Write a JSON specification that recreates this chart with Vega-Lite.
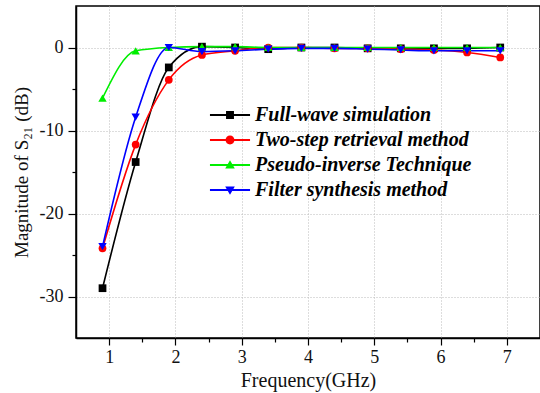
{
  "$schema": "https://vega.github.io/schema/vega-lite/v6.json",
  "autosize": "none",
  "width": 464,
  "height": 332,
  "padding": {"left": 76, "top": 6, "right": 0, "bottom": 55},
  "background": "white",
  "config": {
    "view": {"stroke": "#000", "strokeWidth": 1.5},
    "font": "Liberation Serif",
    "axis": {
      "labelFont": "Liberation Serif",
      "labelFontSize": 18,
      "labelColor": "#111",
      "titleFont": "Liberation Serif",
      "titleFontSize": 20,
      "titleFontWeight": "normal",
      "titleColor": "#111",
      "domainColor": "#000",
      "domainWidth": 1.5,
      "tickColor": "#000",
      "tickWidth": 1.2,
      "gridColor": "#bbbbbb",
      "gridDash": [1, 2],
      "gridWidth": 1
    },
    "legend": {
      "orient": "none",
      "legendX": 142,
      "legendY": 97,
      "padding": 0,
      "symbolOpacity": 1,
      "symbolSize": 576,
      "symbolStrokeWidth": 0,
      "labelFont": "Liberation Serif",
      "labelFontSize": 20,
      "labelFontStyle": "italic",
      "labelFontWeight": "bold",
      "labelColor": "#000",
      "labelOffset": 13,
      "rowPadding": 3,
      "labelLimit": 400
    }
  },
  "data": {
    "values": [
      {"series": "Full-wave simulation", "f": 0.9, "s21": -29.0},
      {"series": "Full-wave simulation", "f": 1.4, "s21": -13.8},
      {"series": "Full-wave simulation", "f": 1.9, "s21": -2.4},
      {"series": "Full-wave simulation", "f": 2.4, "s21": 0.1},
      {"series": "Full-wave simulation", "f": 2.9, "s21": 0.0},
      {"series": "Full-wave simulation", "f": 3.4, "s21": -0.2},
      {"series": "Full-wave simulation", "f": 3.9, "s21": 0.0},
      {"series": "Full-wave simulation", "f": 4.4, "s21": 0.0},
      {"series": "Full-wave simulation", "f": 4.9, "s21": -0.1},
      {"series": "Full-wave simulation", "f": 5.4, "s21": -0.1},
      {"series": "Full-wave simulation", "f": 5.9, "s21": -0.1},
      {"series": "Full-wave simulation", "f": 6.4, "s21": -0.1},
      {"series": "Full-wave simulation", "f": 6.9, "s21": 0.0},
      {"series": "Two-step retrieval method", "f": 0.9, "s21": -24.2},
      {"series": "Two-step retrieval method", "f": 1.4, "s21": -11.7},
      {"series": "Two-step retrieval method", "f": 1.9, "s21": -3.9},
      {"series": "Two-step retrieval method", "f": 2.4, "s21": -0.9},
      {"series": "Two-step retrieval method", "f": 2.9, "s21": -0.4},
      {"series": "Two-step retrieval method", "f": 3.4, "s21": 0.0},
      {"series": "Two-step retrieval method", "f": 3.9, "s21": 0.0},
      {"series": "Two-step retrieval method", "f": 4.4, "s21": -0.1},
      {"series": "Two-step retrieval method", "f": 4.9, "s21": -0.1},
      {"series": "Two-step retrieval method", "f": 5.4, "s21": -0.2},
      {"series": "Two-step retrieval method", "f": 5.9, "s21": -0.3},
      {"series": "Two-step retrieval method", "f": 6.4, "s21": -0.6},
      {"series": "Two-step retrieval method", "f": 6.9, "s21": -1.2},
      {"series": "Pseudo-inverse Technique", "f": 0.9, "s21": -6.1},
      {"series": "Pseudo-inverse Technique", "f": 1.4, "s21": -0.4},
      {"series": "Pseudo-inverse Technique", "f": 1.9, "s21": 0.0},
      {"series": "Pseudo-inverse Technique", "f": 2.4, "s21": 0.1},
      {"series": "Pseudo-inverse Technique", "f": 2.9, "s21": 0.1},
      {"series": "Pseudo-inverse Technique", "f": 3.4, "s21": 0.0},
      {"series": "Pseudo-inverse Technique", "f": 3.9, "s21": 0.0},
      {"series": "Pseudo-inverse Technique", "f": 4.4, "s21": 0.0},
      {"series": "Pseudo-inverse Technique", "f": 4.9, "s21": 0.0},
      {"series": "Pseudo-inverse Technique", "f": 5.4, "s21": 0.0},
      {"series": "Pseudo-inverse Technique", "f": 5.9, "s21": 0.0},
      {"series": "Pseudo-inverse Technique", "f": 6.4, "s21": 0.0},
      {"series": "Pseudo-inverse Technique", "f": 6.9, "s21": 0.0},
      {"series": "Filter synthesis method", "f": 0.9, "s21": -24.0},
      {"series": "Filter synthesis method", "f": 1.4, "s21": -8.4},
      {"series": "Filter synthesis method", "f": 1.9, "s21": 0.0},
      {"series": "Filter synthesis method", "f": 2.4, "s21": -0.5},
      {"series": "Filter synthesis method", "f": 2.9, "s21": -0.4},
      {"series": "Filter synthesis method", "f": 3.4, "s21": -0.2},
      {"series": "Filter synthesis method", "f": 3.9, "s21": -0.1},
      {"series": "Filter synthesis method", "f": 4.4, "s21": -0.1},
      {"series": "Filter synthesis method", "f": 4.9, "s21": -0.2},
      {"series": "Filter synthesis method", "f": 5.4, "s21": -0.3},
      {"series": "Filter synthesis method", "f": 5.9, "s21": -0.4},
      {"series": "Filter synthesis method", "f": 6.4, "s21": -0.4},
      {"series": "Filter synthesis method", "f": 6.9, "s21": -0.4}
    ]
  },
  "encoding": {
    "x": {
      "field": "f", "type": "quantitative",
      "scale": {"domain": [0.5, 7.5], "nice": false, "zero": false},
      "axis": {
        "title": "Frequency(GHz)",
        "values": [1, 1.5, 2, 2.5, 3, 3.5, 4, 4.5, 5, 5.5, 6, 6.5, 7],
        "labelExpr": "datum.value % 1 === 0 ? '' + datum.value : ''",
        "tickSize": {"condition": {"test": "datum.value % 1 === 0", "value": 7}, "value": 4},
        "gridOpacity": {"condition": {"test": "datum.value % 1 === 0", "value": 1}, "value": 0},
        "labelPadding": 3,
        "titlePadding": 4
      }
    },
    "y": {
      "field": "s21", "type": "quantitative",
      "scale": {"domain": [-35, 5], "nice": false, "zero": false},
      "axis": {
        "title": "Magnitude of S₂₁ (dB)",
        "titleFontSize": 19,
        "values": [-30, -25, -20, -15, -10, -5, 0],
        "labelExpr": "datum.value % 10 === 0 ? '' + datum.value : ''",
        "tickSize": {"condition": {"test": "datum.value % 10 === 0", "value": 8}, "value": 4},
        "gridOpacity": {"condition": {"test": "datum.value % 10 === 0", "value": 1}, "value": 0},
        "labelPadding": 5,
        "titlePadding": 8
      }
    }
  },
  "layer": [
    {
      "transform": [{"filter": "datum.series === 'Full-wave simulation'"}],
      "mark": {"type": "line", "interpolate": "monotone", "strokeWidth": 1.6, "color": "#000000"},
      "encoding": {}
    },
    {
      "transform": [{"filter": "datum.series === 'Two-step retrieval method'"}],
      "mark": {"type": "line", "interpolate": "monotone", "strokeWidth": 1.6, "color": "#ff0000"},
      "encoding": {}
    },
    {
      "transform": [{"filter": "datum.series === 'Pseudo-inverse Technique'"}],
      "mark": {"type": "line", "interpolate": "monotone", "strokeWidth": 1.6, "color": "#00ee00"},
      "encoding": {}
    },
    {
      "transform": [{"filter": "datum.series === 'Filter synthesis method'"}],
      "mark": {"type": "line", "interpolate": "monotone", "strokeWidth": 1.6, "color": "#0000ff"},
      "encoding": {}
    },
    {
      "transform": [{"filter": "datum.series === 'Full-wave simulation'"}],
      "mark": {"type": "point", "shape": "square", "filled": true, "opacity": 1, "color": "#000000", "size": 60}
    },
    {
      "transform": [{"filter": "datum.series === 'Two-step retrieval method'"}],
      "mark": {"type": "point", "shape": "circle", "filled": true, "opacity": 1, "color": "#ff0000", "size": 60}
    },
    {
      "transform": [{"filter": "datum.series === 'Pseudo-inverse Technique'"}],
      "mark": {"type": "point", "shape": "triangle-up", "filled": true, "opacity": 1, "color": "#00ee00", "size": 70}
    },
    {
      "transform": [{"filter": "datum.series === 'Filter synthesis method'"}],
      "mark": {"type": "point", "shape": "triangle-down", "filled": true, "opacity": 1, "color": "#0000ff", "size": 70}
    },
    {
      "mark": {"type": "point", "filled": true, "opacity": 0},
      "encoding": {
        "color": {
          "field": "series", "type": "nominal",
          "scale": {
            "domain": ["Full-wave simulation", "Two-step retrieval method", "Pseudo-inverse Technique", "Filter synthesis method"],
            "range": ["#000000", "#ff0000", "#00ee00", "#0000ff"]
          },
          "title": null,
          "legend": {
            "title": null,
            "symbolOpacity": 1,
            "encode": {"symbols": {"update": {"opacity": {"value": 1}, "size": {"value": 576}}}}
          }
        },
        "shape": {
          "field": "series", "type": "nominal",
          "scale": {
            "domain": ["Full-wave simulation", "Two-step retrieval method", "Pseudo-inverse Technique", "Filter synthesis method"],
            "range": [
              "M-1.67,-0.08H1.67V0.08H-1.67Z M-0.33,-0.33H0.33V0.33H-0.33Z",
              "M-1.67,-0.08H1.67V0.08H-1.67Z M-0.37,0A0.37,0.37 0 1,1 0.37,0A0.37,0.37 0 1,1 -0.37,0Z",
              "M-1.67,-0.08H1.67V0.08H-1.67Z M0,-0.4L0.4,0.3H-0.4Z",
              "M-1.67,-0.08H1.67V0.08H-1.67Z M0,0.4L-0.4,-0.3H0.4Z"
            ]
          },
          "title": null,
          "legend": {
            "title": null,
            "symbolOpacity": 1,
            "encode": {"symbols": {"update": {"opacity": {"value": 1}, "size": {"value": 576}}}}
          }
        }
      }
    }
  ]
}
